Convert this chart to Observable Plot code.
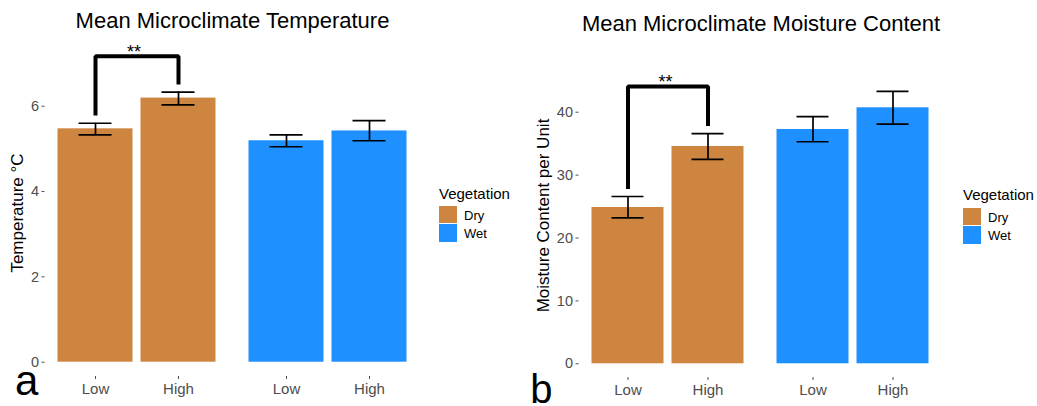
<!DOCTYPE html>
<html><head><meta charset="utf-8">
<script src="https://cdn.jsdelivr.net/npm/d3@7"></script>
<script src="https://cdn.jsdelivr.net/npm/@observablehq/plot@0.6"></script>
<style>
body{margin:0;background:#fff;font-family:"Liberation Sans",Arial,sans-serif;}
#wrap{position:relative;width:1037px;height:406px;overflow:hidden;background:#fff;}
.panel{position:absolute;top:0;}
.abs{position:absolute;line-height:1;white-space:nowrap;}
.sw{position:absolute;}
</style></head><body><div id="wrap"></div>
<script>
// ---- data ----
const vegetation = ["Dry", "Dry", "Wet", "Wet"];
const level = ["Low", "High", "Low", "High"];
const tempMean = [5.47, 6.19, 5.19, 5.42];
const tempLow = [5.33, 6.03, 5.05, 5.19];
const tempHigh = [5.60, 6.33, 5.33, 5.66];
const moistMean = [24.85, 34.55, 37.25, 40.7];
const moistLow = [23.2, 32.5, 35.3, 38.1];
const moistHigh = [26.6, 36.6, 39.3, 43.3];
const tempTicks = [0, 2, 4, 6];
const moistTicks = [0, 10, 20, 30, 40];
const vegCategories = ["Dry", "Wet"];
const levelCategories = ["Low", "High"];
const vegColors = ["#CD853F", "#1E90FF"];
// significance bracket: [left foot, top, right foot]
const tempBracket = [5.78, 7.17, 6.51];
const moistBracket = [27.8, 44.1, 37.8];
const tempStarY = 7.12;
const moistStarY = 43.8;
const sigLabel = "**";
const titles = ["Mean Microclimate Temperature", "Mean Microclimate Moisture Content"];
const yLabels = ["Temperature °C", "Moisture Content per Unit"];
const panelTags = ["a", "b"];
const legendTitle = "Vegetation";

const FONT = "Liberation Sans, Arial, sans-serif";

function panel(o) {
  const rows = vegetation.map((v, i) => ({veg: v, lvl: level[i], mean: o.mean[i], lo: o.lo[i], hi: o.hi[i]}));
  const br = [
    {veg: "Dry", lvl: "Low", y: o.bracket[0]},
    {veg: "Dry", lvl: "Low", y: o.bracket[1]},
    {veg: "Dry", lvl: "High", y: o.bracket[1]},
    {veg: "Dry", lvl: "High", y: o.bracket[2]}
  ];
  return Plot.plot({
    width: o.width, height: 406,
    marginLeft: o.marginLeft, marginRight: o.marginRight, marginTop: 40, marginBottom: o.marginBottom,
    style: {fontFamily: FONT, background: "white", overflow: "visible"},
    fx: {domain: vegCategories, axis: null, paddingInner: o.fxPadInner, paddingOuter: o.fxPadOuter},
    x: {domain: levelCategories, paddingInner: o.xPadInner, paddingOuter: 0},
    y: {domain: o.yDomain},
    color: {domain: vegCategories, range: vegColors},
    marks: [
      Plot.barY(rows, {fx: "veg", x: "lvl", y: "mean", fill: "veg"}),
      Plot.ruleX(rows, {fx: "veg", x: "lvl", y1: "lo", y2: "hi", stroke: "black", strokeWidth: 1.7}),
      Plot.tickY(rows, {fx: "veg", x: "lvl", y: "lo", stroke: "black", strokeWidth: 1.7, inset: o.capInset}),
      Plot.tickY(rows, {fx: "veg", x: "lvl", y: "hi", stroke: "black", strokeWidth: 1.7, inset: o.capInset}),
      Plot.line(br, {fx: "veg", x: "lvl", y: "y", stroke: "black", strokeWidth: 4, strokeLinejoin: "miter", strokeLinecap: "butt"}),
      Plot.text([{veg: "Dry", y: o.starY, label: sigLabel}], {fx: "veg", y: "y", text: "label", lineAnchor: "bottom", textAnchor: "middle", fontSize: 18, dx: -3, fill: "black"}),
      Plot.axisY({ticks: o.ticks, tickSize: 3, tickPadding: 3, fontSize: 14.5, color: "#4d4d4d", label: null, dx: o.axisDx}),
      Plot.axisX({tickSize: 3, tickPadding: 4.3, fontSize: 15, color: "#4d4d4d", label: null}),
      Plot.text([o.title], {facet: "super", frameAnchor: "top", lineAnchor: "bottom", textAnchor: "middle", dy: o.titleDy, fontSize: 22, fill: "black"}),
      Plot.text([o.ylabel], {facet: "super", frameAnchor: "left", rotate: -90, lineAnchor: "middle", textAnchor: "middle", dx: o.ylabelDx, dy: o.ylabelDy, fontSize: 17, fill: "black"})
    ]
  });
}

const wrap = document.getElementById("wrap");

const left = panel({
  mean: tempMean, lo: tempLow, hi: tempHigh, ticks: tempTicks, bracket: tempBracket, starY: tempStarY,
  title: titles[0], ylabel: yLabels[0],
  width: 520, marginLeft: 43.5, marginRight: 99.8, marginBottom: 30, yDomain: [-0.335, 7.54],
  fxPadInner: 0.1654, fxPadOuter: 0.0652, xPadInner: 0.095, capInset: 21, axisDx: -12.5,
  titleDy: -12.6, ylabelDx: -39.7, ylabelDy: 4.5
});
const right = panel({
  mean: moistMean, lo: moistLow, hi: moistHigh, ticks: moistTicks, bracket: moistBracket, starY: moistStarY,
  title: titles[1], ylabel: yLabels[1],
  width: 517, marginLeft: 58.5, marginRight: 93.2, marginBottom: 29, yDomain: [-2.18, 51.4],
  fxPadInner: 0.165, fxPadOuter: 0.0672, xPadInner: 0.098, capInset: 20, axisDx: -12.5,
  titleDy: -9.3, ylabelDx: -48, ylabelDy: 6.5
});
const d1 = document.createElement("div"); d1.className = "panel"; d1.style.left = "0px"; d1.appendChild(left); wrap.appendChild(d1);
const d2 = document.createElement("div"); d2.className = "panel"; d2.style.left = "520px"; d2.appendChild(right); wrap.appendChild(d2);

// baseline offset from the top of a line box of height lh (in em) for Liberation Sans
function addText(txt, x, baseline, size, color, lh) {
  lh = lh || 1;
  const el = document.createElement("div");
  el.className = "abs";
  el.textContent = txt;
  el.style.lineHeight = lh;
  el.style.left = x + "px";
  el.style.top = (baseline - ((lh - 1.117) / 2 + 0.905) * size) + "px";
  el.style.fontSize = size + "px";
  el.style.color = color || "#000";
  wrap.appendChild(el);
}
function legend(x, titleBaseline, swTop) {
  addText(legendTitle, x, titleBaseline, 15, "#000");
  vegCategories.forEach((c, i) => {
    const top = swTop + i * 18.6;
    const sw = document.createElement("div");
    sw.className = "sw";
    sw.style.left = x + "px"; sw.style.top = top + "px";
    sw.style.width = "17.5px"; sw.style.height = "17.5px";
    sw.style.background = vegColors[i];
    wrap.appendChild(sw);
    addText(c, x + 25, top + 14, 13, "#000");
  });
}
legend(439, 198.3, 205.7);
legend(963, 199.3, 207.7);
addText(panelTags[0], 15, 395, 42, "#000", 0.5);
addText(panelTags[1], 530.3, 403, 40, "#000", 0.7);
</script></body></html>
